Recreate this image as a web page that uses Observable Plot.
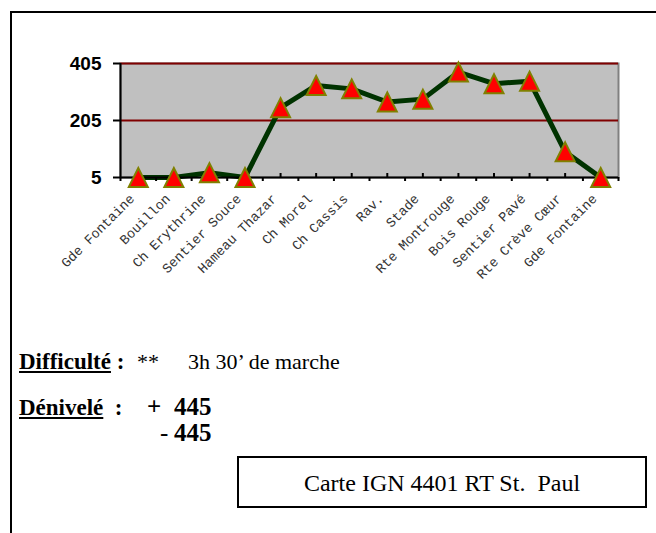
<!DOCTYPE html>
<html><head><meta charset="utf-8">
<script src="https://cdn.jsdelivr.net/npm/d3@7"></script>
<script src="https://cdn.jsdelivr.net/npm/@observablehq/plot@0.6"></script>
<style>
body{margin:0;background:#fff;}
#page{position:relative;width:656px;height:533px;overflow:hidden;background:#fff;}
#chart{position:absolute;left:0;top:0;}
#frame{position:absolute;left:10px;top:11px;width:700px;height:600px;border-left:2px solid #000;border-top:2px solid #000;}
.t{position:absolute;font-family:"Liberation Serif","Times New Roman",serif;font-size:23px;line-height:23px;white-space:pre;color:#000;}
.r{font-size:22px;line-height:22px;}
.v{font-size:25px;line-height:25px;}
#carte{position:absolute;left:237px;top:456px;width:406px;height:48px;border:2px solid #000;font-family:"Liberation Serif","Times New Roman",serif;font-size:24px;line-height:50px;text-align:center;white-space:pre;}
</style></head>
<body>
<div id="page">
<div id="chart"></div>
<div id="frame"></div>
<div class="t" style="left:19px;top:350px"><b><u>Difficulté</u> :</b></div>
<div class="t r" style="left:137px;top:351px">**</div>
<div class="t r" style="left:188px;top:351px">3h 30’ de marche</div>
<div class="t" style="left:19px;top:396px"><b><u>Dénivelé</u>  :</b></div>
<div class="t v" style="left:147px;top:394px"><b>+</b></div>
<div class="t v" style="left:174px;top:394px"><b>445</b></div>
<div class="t v" style="left:160px;top:420px">-</div>
<div class="t v" style="left:174px;top:420px"><b>445</b></div>
<div id="carte">Carte IGN 4401 RT St.  Paul</div>
</div>
<script>
const stops = ["Gde Fontaine","Bouillon","Ch Erythrine","Sentier Souce","Hameau Thazar","Ch Morel","Ch Cassis","Rav.","Stade","Rte Montrouge","Bois Rouge","Sentier Pavé","Rte Crève Cœur","Gde Fontaine"];
const altitude = [5,5,22,5,250,328,316,270,280,375,334,343,95,5];
const yTicks = [5,205,405];
const gridLines = [205,405];

const yMin = yTicks[0], yMax = yTicks[yTicks.length-1];
const centers = stops.map((d,i)=>i+0.5);
const bounds = d3.range(stops.length+1);

const triangle = {
  draw(context, size){
    const r = Math.sqrt(size/Math.PI);
    context.moveTo(0,-r);
    context.lineTo(r,r);
    context.lineTo(-r,r);
    context.closePath();
  }
};

const chart = Plot.plot({
  width:656, height:290,
  marginLeft:120, marginRight:38, marginTop:63, marginBottom:113,
  style:{fontFamily:"Liberation Sans, Arial, sans-serif", background:"transparent", overflow:"visible"},
  x:{domain:[0, stops.length], axis:null},
  y:{domain:[yMin, yMax], axis:null},
  marks:[
    Plot.frame({fill:"#c0c0c0"}),
    Plot.frame({stroke:"#808080", strokeWidth:2}),
    Plot.ruleY(gridLines, {stroke:"#800000", strokeWidth:2}),
    Plot.line(altitude, {x:(d,i)=>i+0.5, y:d=>d, stroke:"#003300", strokeWidth:5, strokeLinejoin:"round"}),
    Plot.ruleY([yMin], {stroke:"#000", strokeWidth:2}),
    Plot.ruleX([0], {stroke:"#000", strokeWidth:2}),
    Plot.ruleX(centers, {x:d=>d, y1:()=>yMin, y2:()=>yMin, insetBottom:4, stroke:"#000", strokeWidth:2}),
    Plot.ruleX(bounds, {x:d=>d, y1:()=>yMin, y2:()=>yMin, insetBottom:-4, stroke:"#000", strokeWidth:2}),
    Plot.axisY(yTicks, {tickSize:7, tickPadding:12, fontSize:19, fontWeight:"bold", strokeWidth:2, fill:"#000"}),
    Plot.text(stops, {x:(d,i)=>i+0.5, frameAnchor:"bottom", rotate:-45, textAnchor:"end", dx:-3, dy:22, fontFamily:"Liberation Mono, Courier New, monospace", fontSize:13.5, fill:"#333"}),
    Plot.dot(altitude, {x:(d,i)=>i+0.5, y:d=>d, symbol:triangle, r:9.5, fill:"#ff0000", stroke:"#808000", strokeWidth:2})
  ]
});
document.getElementById("chart").appendChild(chart);
</script>
</body></html>
